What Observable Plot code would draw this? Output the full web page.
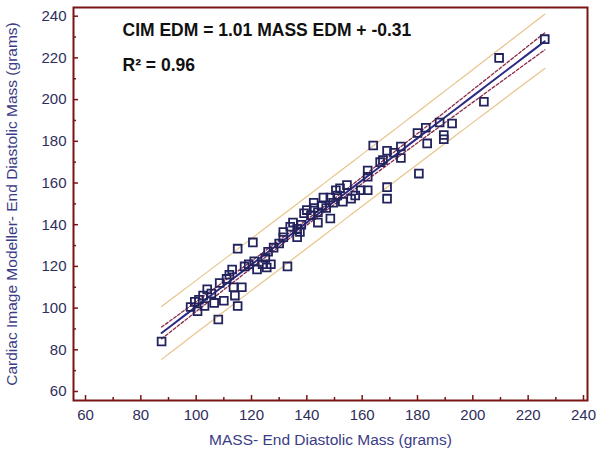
<!DOCTYPE html>
<html><head><meta charset="utf-8">
<script src="https://cdn.jsdelivr.net/npm/d3@7"></script>
<script src="https://cdn.jsdelivr.net/npm/@observablehq/plot@0.6"></script>
<style>body{margin:0;background:#fff}#chart{width:600px;height:454px}</style>
</head><body><div id="chart"></div>
<script>
// MASS end-diastolic mass (x) and CIM end-diastolic mass (y), grams
const massEDM = [87.5,98,99.5,100.5,101,102.5,104,105.5,106.5,108,108.5,110,111,113,113.5,114,115,115,116.5,117.5,120.5,121,122,124,125,125.5,103,112,119,126,
  128,130,131.5,131.5,133,134,135,136.5,136.5,137.5,139,140,141.5,142.5,142.5,144,145.5,146,148.5,148.5,149.5,150.5,151,152,154.5,156,157.5,159.5,162,162,162,164,166.5,
  167.5,169,169,169,171.5,174,174,180,180.5,183,183.5,188,189.5,189.5,192.5,204,209.5,226,138,144,153,147,127];
const cimEDM = [84,100.5,103,98.5,104,106,109,107,102.5,94.5,112,103.5,114,118.5,110,106,101,128.5,110,120,131.5,122.5,118.5,121,124,119.5,101,116,121,127,
  129,131,134,136.5,120,139,141,138,134,136.5,145.5,147,144.5,148,150.5,141,149,153,153,143,150.5,156.5,154,157.5,159,152.5,154,156.5,156.5,163,166,178,170,
  171,175.5,158,152.5,174.5,172,177.5,184,164.5,186.5,179,189,183,181,188.5,199,220,229,140,146,151,148,121];

const xTicks = [60,80,100,120,140,160,180,200,220,240];
const xMinor = [70,90,110,130,150,170,190,210,230];
const yTicks = [60,80,100,120,140,160,180,200,220,240];
const yMinor = [70,90,110,130,150,170,190,210,230];

const slope = 1.01, intercept = -0.31;
const equationText = "CIM EDM = 1.01 MASS EDM + -0.31";
const r2Text = "R\u00b2 = 0.96";
const xTitle = "MASS- End Diastolic Mass (grams)";
const yTitle = "Cardiac Image Modeller- End Diastolic Mass (grams)";

const pts = massEDM.map((x, i) => ({x, y: cimEDM[i]}));

// regression-derived bands (confidence of mean, prediction interval)
const n = pts.length;
const xbar = d3.mean(massEDM);
const Sxx = d3.sum(massEDM, x => (x - xbar) ** 2);
const s = Math.sqrt(d3.sum(pts, p => (p.y - (slope * p.x + intercept)) ** 2) / (n - 2));
const t = 1.99;
const [xmin, xmax] = d3.extent(massEDM);
const band = d3.range(0, 41).map(i => {
  const x = xmin + (xmax - xmin) * i / 40;
  const yhat = slope * x + intercept;
  const h = (x - xbar) ** 2 / Sxx;
  const ci = t * s * Math.sqrt(1 / n + h);
  const pi = t * s * Math.sqrt(1 + 1 / n + h);
  return {x, yhat, ciLo: yhat - ci, ciHi: yhat + ci, piLo: yhat - pi, piHi: yhat + pi};
});

const frameColor = "#7a1414";
const labelColor = "#2e2e5c";
const titleColor = "#3a3c86";
const blank = () => "";

const chart = Plot.plot({
  width: 600, height: 454,
  marginLeft: 73, marginRight: 13, marginTop: 7, marginBottom: 54,
  style: {fontFamily: "'Liberation Sans', Arial, sans-serif", fontSize: "15px", background: "#fff"},
  x: {domain: [55.66, 241.45], axis: null},
  y: {domain: [55.68, 244.17], axis: null},
  marks: [
    Plot.line(band, {x: "x", y: "piHi", stroke: "#e8c48c", strokeWidth: 1.2}),
    Plot.line(band, {x: "x", y: "piLo", stroke: "#e8c48c", strokeWidth: 1.2}),
    Plot.line(band, {x: "x", y: "ciHi", stroke: "#8c2a46", strokeWidth: 1.3, strokeDasharray: "3,2"}),
    Plot.line(band, {x: "x", y: "ciLo", stroke: "#8c2a46", strokeWidth: 1.3, strokeDasharray: "3,2"}),
    Plot.line(band, {x: "x", y: "yhat", stroke: "#2b2b86", strokeWidth: 2}),
    Plot.dot(pts, {x: "x", y: "y", symbol: "square", r: 4.4, stroke: "#22225c", strokeWidth: 1.8, fill: "none"}),
    // tick labels
    Plot.axisX(xTicks, {anchor: "bottom", tickSize: 0, tickPadding: 9, label: null, fill: labelColor, fontSize: 15}),
    Plot.axisY(yTicks, {anchor: "left", tickSize: 0, tickPadding: 7, label: null, fill: labelColor, fontSize: 15}),
    // inward ticks
    Plot.axisX(xTicks, {anchor: "bottom", tickSize: 5, dy: -5, tickFormat: blank, label: null, stroke: frameColor, strokeWidth: 1.5}),
    Plot.axisX(xMinor, {anchor: "bottom", tickSize: 3, dy: -3, tickFormat: blank, label: null, stroke: frameColor, strokeWidth: 1.5}),
    Plot.axisY(yTicks, {anchor: "left", tickSize: 5, dx: 5, tickFormat: blank, label: null, stroke: frameColor, strokeWidth: 1.5}),
    Plot.axisY(yMinor, {anchor: "left", tickSize: 3, dx: 3, tickFormat: blank, label: null, stroke: frameColor, strokeWidth: 1.5}),
    Plot.frame({stroke: frameColor, strokeWidth: 2}),
    Plot.text([xTitle], {frameAnchor: "bottom", dy: 40, fill: titleColor, fontSize: 15.5, textAnchor: "middle", lineAnchor: "middle"}),
    Plot.text([yTitle], {frameAnchor: "left", dx: -61, rotate: -90, fill: titleColor, fontSize: 15.5, textAnchor: "middle", lineAnchor: "middle"}),
    Plot.text([equationText], {frameAnchor: "top-left", dx: 49, dy: 16, textAnchor: "start", lineAnchor: "top", fontWeight: "bold", fontSize: 17.5, fill: "#111"}),
    Plot.text([r2Text], {frameAnchor: "top-left", dx: 49, dy: 51, textAnchor: "start", lineAnchor: "top", fontWeight: "bold", fontSize: 17.5, fill: "#111"})
  ]
});
document.getElementById("chart").appendChild(chart);
</script></body></html>
